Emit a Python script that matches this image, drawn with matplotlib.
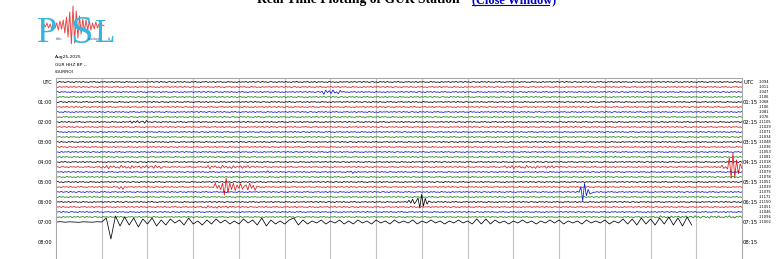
import matplotlib
matplotlib.use("Agg")
import matplotlib.pyplot as plt
import matplotlib.transforms as mtransforms
from matplotlib.lines import Line2D
import numpy as np

# ---- chart data ----
MINUTES_PER_ROW = 15
ROWS_FULL = 28                      # 00:00 .. 06:45, four 15-minute rows per hour
ROW_COLORS = ["#000000", "#d81818", "#1010d8", "#108010"]
HOURS = list(range(0, 10))
LEFT_LABELS = ["UTC"] + [f"{h:02d}:00" for h in HOURS[1:]]
RIGHT_LABELS = ["UTC"] + [f"{h:02d}:15" for h in HOURS[1:]]
ROW_OFFSETS = [
    "-1094", "-1011", "-1047", "-1106", "-1068", "-1106", "-1081", "-1076",
    "-11105", "-11029", "-11071", "-11034", "-11048", "-11036", "-11053", "-11081",
    "-11018", "-11020", "-11079", "-11078", "-11051", "-11039", "-11075", "-11171",
    "-11150", "-11051", "-11046", "-11096", "-11002",
]
HEADER_LINES = ["Aug25,2025", "GUR HHZ BP --", "(GURRO)"]

# background noise pattern (pixels, up positive)
NOISE = [0.5, -0.7, 0.9, -0.3, 0.4, -0.8, 0.2, 0.6, -0.5, 0.3, -0.9, 0.7,
         -0.2, 0.5, -0.6, 0.8, -0.4, 0.1, -0.7, 0.6, -0.3, 0.9, -0.5, 0.2,
         -0.8, 0.4, -0.1, 0.7, -0.6, 0.3, -0.4, 0.8, -0.9, 0.5, -0.2, 0.6,
         -0.5, 0.1, -0.7, 0.9, -0.3, 0.4, -0.6, 0.2, -0.8, 0.7, -0.4, 0.3,
         -0.1, 0.6, -0.7, 0.5, -0.3, 0.8, -0.5, 0.2]
NOISE_GAIN = 0.7

# bursts: (row, start minute, end minute, amplitude in px)
BURSTS = [
    (2, 5.8, 6.25, 2.2),
    (8, 1.55, 2.0, 1.4),
    (17, 0.95, 2.3, 1.6),
    (17, 3.25, 4.35, 1.6),
    (17, 9.8, 11.0, 1.5),
    (17, 14.5, 14.95, 2.5),
    (18, 4.6, 4.7, 2.0),
    (18, 6.45, 6.55, 2.0),
    (21, 1.35, 1.5, 2.5),
    (21, 3.45, 4.4, 3.6),
    (22, 11.45, 11.75, 2.5),
    (24, 7.7, 8.1, 3.0),
    (25, 3.15, 3.8, 1.3),
    (27, 13.0, 15.0, 1.2),
]
# short spikes: (row, minute, peak amplitude px)
SPIKES = [(17, 14.67, 13.0), (21, 3.6, 6.0), (22, 11.42, 8.0), (24, 7.85, 4.5)]
SPIKE_SHAPE = [0.0, 0.5, -0.8, 1.0, -0.7, 0.5, -0.35, 0.2, -0.1, 0.0]

# the partial 07:00 row, one sample per 0.1 minute (px, up positive)
LAST_ROW = [
    0, 0.3, -0.2, 0.2, 0, -0.3, 0.2, 0, -0.2, 0.3, 0, 4,
    -17, 6, -4, 5, -3, 4, -5, 3, -2, 4, -4, 2, -3, 3, -1, 2, -3, 4,
    -2, 1, -3, 2, -2, 3, -1, 2, -2, 1, -2, 3, -1, 2, -3, 4, -4, 2,
    -2, 1, -2, 2, 4, -3, 2, -2, 1, -1, 2, -2, 1, -1, 2, -2, 1, -2,
    2, -1, 1, -2, 2, -1, 1, -2, 2, -1, 1, -1, 2, -2, 1, -1, 2, -1,
    1, -2, 1, -1, 2, -1, 1, -2, 3, -2, 3, -2, 2, -1, 1, -2, 1, -1,
    2, -1, 1, -2, 1, -1, 2, -1, 2, -2, 1, -1, 1, -2, 2, -1, 1, -1,
    2, -2, 1, -1, 3, -2, 3, -3, 4, -2, 3, -3, 4, -2, 5, -3, 4, -4,
    5, -3,
]

# logo waveform (px, up positive)
LOGO_WAVE = [0, 2, -1, 3, -2, 2, -3, 4, -2, 3, -4, 5, -3, 6, -7, 9, -11, 14,
             -18, 20, -17, 15, -12, 10, -8, 7, -5, 6, -4, 5, -4, 3, -3, 4,
             -2, 2, -1, 1, 0]

PX_PER_ROW = 5.0


def row_trace(row):
    n = 380
    x = np.linspace(0, MINUTES_PER_ROW, n)
    pattern = np.array(NOISE) * NOISE_GAIN
    shift = (row * 13) % len(pattern)
    v = np.resize(np.roll(pattern, shift), n).astype(float)
    for r, a, b, amp in BURSTS:
        if r == row:
            mask = (x >= a) & (x <= b)
            v[mask] *= amp / 0.6
    for r, m, amp in SPIKES:
        if r == row:
            i0 = int(np.searchsorted(x, m))
            for k, s in enumerate(SPIKE_SHAPE):
                if i0 + k < n:
                    v[i0 + k] += s * amp
    return x, row - v / PX_PER_ROW


fig = plt.figure(figsize=(7.82, 2.59), dpi=100)
W, H = 782.0, 259.0

ax = fig.add_axes([56 / W, 0, (742 - 56) / W, 181 / H])
ax.set_xlim(0, MINUTES_PER_ROW)
ax.set_ylim((H - 82) / PX_PER_ROW, -0.8)
ax.set_xticks([])
ax.set_yticks([])
for name, sp in ax.spines.items():
    sp.set_color("#a8a8a8")
    sp.set_linewidth(0.8)
ax.spines["bottom"].set_visible(False)
ax.vlines(range(1, MINUTES_PER_ROW), -0.8, 40, color="#c4c4c4", lw=0.8, zorder=0)

for row in range(ROWS_FULL):
    x, y = row_trace(row)
    ax.plot(x, y, color=ROW_COLORS[row % 4], lw=0.55)

last = np.array(LAST_ROW, dtype=float)
ax.plot(np.arange(len(last)) * 0.1, ROWS_FULL - last / PX_PER_ROW, color="black", lw=0.55)

trans = mtransforms.blended_transform_factory(ax.transAxes, ax.transData)
for h, (ll, rl) in enumerate(zip(LEFT_LABELS, RIGHT_LABELS)):
    ax.text(-0.006, 4 * h, ll, transform=trans, ha="right", va="center",
            fontsize=3.6, clip_on=False)
    ax.text(1.0015, 4 * h, rl, transform=trans, ha="left", va="center",
            fontsize=3.8, clip_on=False)
for row, lab in enumerate(ROW_OFFSETS):
    ax.text(1.0248, row, lab, transform=trans, ha="left", va="center",
            fontsize=2.6, clip_on=False)

for i, line in enumerate(HEADER_LINES):
    fig.text(55 / W, 1 - (57 + 7.5 * i) / H, line, fontsize=3.2, ha="left", va="center")

# title (cut off at the top of the frame)
fig.text(257 / W, 1 - 3 / H, "Real Time Plotting of GUR Station", family="Liberation Serif",
         weight="bold", fontsize=9.8, ha="left", va="baseline")
fig.text(472 / W, 1 - 3 / H, "(Close Window)", family="Liberation Serif",
         weight="bold", fontsize=8.8, color="#0000cc", ha="left", va="baseline")
fig.add_artist(Line2D([472 / W, 549 / W], [1 - 5 / H] * 2, color="#0000cc", lw=0.8))

# logo
lax = fig.add_axes([35 / W, 1 - 47 / H, 78 / W, 44 / H])
lax.set_xlim(35, 113)
lax.set_ylim(47, 3)
lax.axis("off")
wave = np.array(LOGO_WAVE, dtype=float)
lax.plot(np.linspace(42, 104, len(wave)), 26 - wave, color="#e84a4a", lw=0.7)
serif = "Liberation Serif"
lax.text(37, 42, "P", family=serif, fontsize=26, color="#35b5dc", va="baseline")
lax.text(70, 43, "S", family=serif, fontsize=29, color="#35b5dc", va="baseline")
lax.text(95, 42, "L", family=serif, fontsize=24, color="#35b5dc", va="baseline")
lax.text(56, 40, "ublic", family=serif, fontsize=2.4, color="#2050a0", va="baseline")
lax.text(88, 40, "eismology", family=serif, fontsize=2.2, color="#2050a0", va="baseline")
lax.text(108, 40, "ab", family=serif, fontsize=2.4, color="#2050a0", va="baseline")

fig.savefig("out.png", dpi=100)
